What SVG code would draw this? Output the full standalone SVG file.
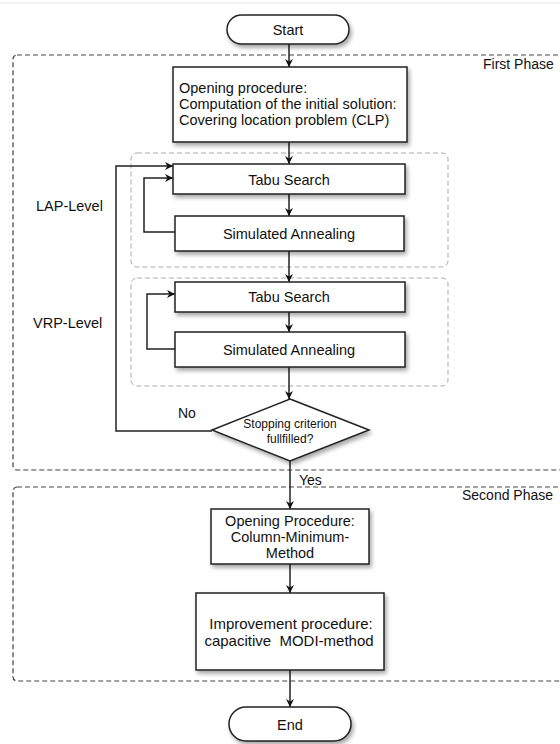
<svg xmlns="http://www.w3.org/2000/svg" width="560" height="744" viewBox="0 0 560 744">
<defs>
<filter id="sh" x="-10%" y="-10%" width="130%" height="140%">
<feGaussianBlur in="SourceAlpha" stdDeviation="2"/>
<feOffset dx="1.5" dy="3" result="b"/>
<feComponentTransfer><feFuncA type="linear" slope="0.35"/></feComponentTransfer>
<feMerge><feMergeNode/><feMergeNode in="SourceGraphic"/></feMerge>
</filter>
<marker id="ah" viewBox="0 0 10 10" refX="10" refY="5" markerWidth="8" markerHeight="8" markerUnits="userSpaceOnUse" orient="auto">
<path d="M0,0 L10,5 L0,10 L3,5 Z" fill="#111"/>
</marker>
</defs>
<style>
.box{fill:#fff;stroke:#222;stroke-width:1.5}
.t{font-family:"Liberation Sans",Arial,sans-serif;font-size:14.5px;fill:#111}
.tc{text-anchor:middle}
.phase{fill:none;stroke:#444;stroke-width:1.2;stroke-dasharray:5,3}
.lvl{fill:none;stroke:#aaa;stroke-width:1;stroke-dasharray:5,3}
.ca{fill:none;stroke:#222;stroke-width:1.5;marker-end:url(#ah)}
</style>
<rect width="560" height="744" fill="#fff"/>
<line x1="0" y1="3" x2="560" y2="3" stroke="#e4e4e4" stroke-width="1"/>

<g id="first-phase">
<rect class="phase" x="13" y="55" width="560" height="415" rx="4"/>
<text class="t" x="483" y="69" style="font-size:14px">First Phase</text>
</g>
<g id="second-phase">
<rect class="phase" x="13" y="487" width="560" height="194" rx="4"/>
<text class="t" x="462" y="500" style="font-size:14px">Second Phase</text>
</g>
<g id="lap-level">
<rect class="lvl" x="131" y="153" width="317" height="114" rx="6"/>
<text class="t" x="36" y="211">LAP-Level</text>
</g>
<g id="vrp-level">
<rect class="lvl" x="131" y="278" width="317" height="108" rx="6"/>
<text class="t" x="33" y="328">VRP-Level</text>
</g>

<g id="connectors">
<line class="ca" x1="289" y1="44" x2="289" y2="67"/>
<line class="ca" x1="289" y1="142" x2="289" y2="164"/>
<line class="ca" x1="289" y1="194" x2="289" y2="216"/>
<polyline class="ca" points="175,232 144,232 144,178 173,178"/>
<line class="ca" x1="289" y1="251" x2="289" y2="282"/>
<line class="ca" x1="289" y1="312" x2="289" y2="332"/>
<polyline class="ca" points="175,349 147,349 147,294 175,294"/>
<line class="ca" x1="289" y1="367" x2="289" y2="399"/>
<polyline class="ca" points="212,431 116,431 116,166 173,166"/>
<line class="ca" x1="290" y1="461" x2="290" y2="509"/>
<line class="ca" x1="290" y1="564" x2="290" y2="593"/>
<line class="ca" x1="290" y1="670" x2="290" y2="707"/>
<text class="t" x="178" y="418" style="font-size:14px">No</text>
<text class="t" x="299" y="485" style="font-size:14px">Yes</text>
</g>

<g id="start">
<rect class="box" x="227" y="15" width="122" height="29" rx="14.5" filter="url(#sh)"/>
<text class="t tc" x="288" y="35">Start</text>
</g>
<g id="opening-clp">
<rect class="box" x="173" y="67" width="234" height="75" filter="url(#sh)"/>
<text class="t" x="179" y="93">Opening procedure:</text>
<text class="t" x="179" y="109">Computation of the initial solution:</text>
<text class="t" x="179" y="125">Covering location problem (CLP)</text>
</g>
<g id="tabu1">
<rect class="box" x="173" y="164" width="232" height="30" filter="url(#sh)"/>
<text class="t tc" x="289" y="184.5">Tabu Search</text>
</g>
<g id="sa1">
<rect class="box" x="175" y="216" width="229" height="35" filter="url(#sh)"/>
<text class="t tc" x="289" y="239">Simulated Annealing</text>
</g>
<g id="tabu2">
<rect class="box" x="175" y="282" width="230" height="30" filter="url(#sh)"/>
<text class="t tc" x="289" y="302">Tabu Search</text>
</g>
<g id="sa2">
<rect class="box" x="175" y="332" width="230" height="35" filter="url(#sh)"/>
<text class="t tc" x="289" y="355">Simulated Annealing</text>
</g>
<g id="decision">
<polygon class="box" points="290,399 369,430 290,461 212,430" filter="url(#sh)"/>
<text class="t tc" x="290" y="428" style="font-size:12px">Stopping criterion</text>
<text class="t tc" x="290" y="443" style="font-size:12px">fullfilled?</text>
</g>
<g id="opening-cmm">
<rect class="box" x="211" y="509" width="158" height="55" filter="url(#sh)"/>
<text class="t tc" x="290" y="526">Opening Procedure:</text>
<text class="t tc" x="290" y="542">Column-Minimum-</text>
<text class="t tc" x="290" y="558">Method</text>
</g>
<g id="improvement">
<rect class="box" x="196" y="593" width="188" height="77" filter="url(#sh)"/>
<text class="t tc" x="291" y="629" style="font-size:15px">Improvement procedure:</text>
<text class="t tc" x="289" y="646" style="font-size:15px" xml:space="preserve">capacitive  MODI-method</text>
</g>
<g id="end">
<rect class="box" x="229" y="707" width="122" height="34" rx="17" filter="url(#sh)"/>
<text class="t tc" x="290" y="730">End</text>
</g>
</svg>
